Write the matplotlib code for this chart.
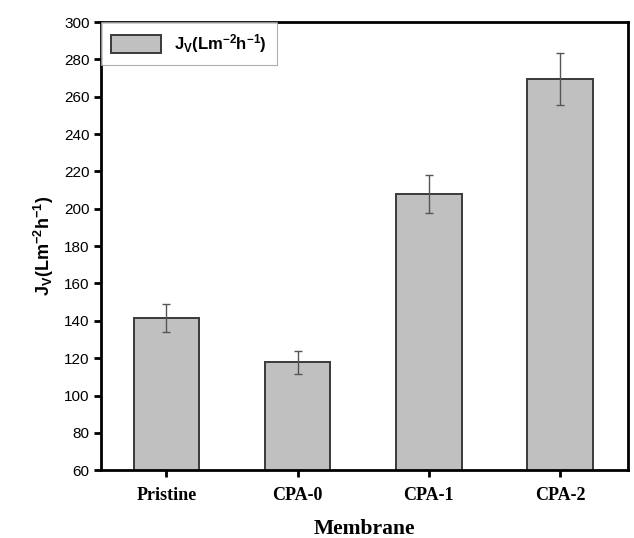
import matplotlib
matplotlib.use("Agg")
import matplotlib.pyplot as plt

# data
membranes = ["Pristine", "CPA-0", "CPA-1", "CPA-2"]
flux = [141.5, 117.8, 208.0, 269.5]
flux_err = [7.3, 6.2, 10.3, 13.8]
yticks = list(range(60, 301, 20))

plt.rcParams["mathtext.fontset"] = "custom"
plt.rcParams["mathtext.rm"] = "Liberation Sans"
plt.rcParams["mathtext.bf"] = "Liberation Sans:bold"
plt.rcParams["mathtext.it"] = "Liberation Sans:italic"

flux_label = r"$\mathbf{J_V(Lm^{-2}h^{-1})}$"

fig = plt.figure(figsize=(6.34, 5.38), dpi=100)
ax = fig.add_axes([0.159, 0.126, 0.832, 0.833])

x = range(len(membranes))
ax.bar(x, flux, width=0.5, color="#c0c0c0", edgecolor="#3a3a3a",
       linewidth=1.4, label=flux_label, zorder=2)
ax.errorbar(x, flux, yerr=flux_err, fmt="none", ecolor="#555555",
            elinewidth=1.0, capsize=3, capthick=1.0, zorder=3)

ax.set_xlim(-0.5, 3.52)
ax.set_ylim(60, 300)
ax.set_yticks(yticks)
ax.set_xticks(list(x))
ax.set_xticklabels(membranes, family="Liberation Serif", fontweight="bold",
                   fontsize=13)
for lab in ax.get_yticklabels():
    lab.set_family("Liberation Sans")
    lab.set_fontsize(11)

for s in ax.spines.values():
    s.set_linewidth(2.0)
ax.tick_params(axis="both", direction="out", length=5, width=2, pad=3)
ax.tick_params(axis="x", pad=7)

ax.set_xlabel("Membrane", family="Liberation Serif", fontweight="bold",
              fontsize=15.5, labelpad=11)
ax.set_ylabel(flux_label, fontsize=13, labelpad=6)

leg = ax.legend(loc="upper left", fontsize=12, frameon=True, fancybox=False,
                borderaxespad=0.0, handlelength=3.0, handleheight=1.3,
                borderpad=0.6)
leg.get_frame().set_edgecolor("#999999")
leg.get_frame().set_linewidth(0.8)

fig.savefig("out.png", dpi=100)
